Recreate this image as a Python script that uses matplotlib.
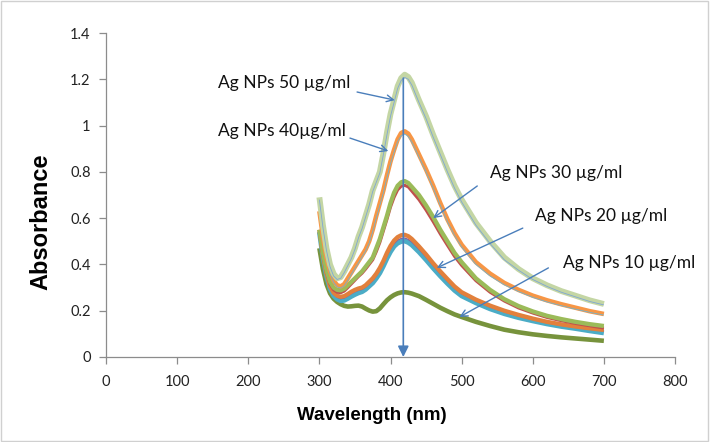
import numpy as np
import matplotlib
matplotlib.use("Agg")
import matplotlib.pyplot as plt
from matplotlib.patches import Rectangle

# ---------------- data ----------------
wavelength = [300, 305, 310, 315, 320, 325, 330, 335, 340, 345, 350, 355, 360, 365, 370,
              375, 380, 385, 390, 395, 400, 405, 410, 415, 420, 425, 430,
              440, 450, 460, 470, 480, 490, 500,
              520, 540, 560, 580, 600, 620, 640, 660, 680, 700]

abs_50 = [0.69, 0.57, 0.47, 0.40, 0.36, 0.34, 0.345, 0.37, 0.40, 0.43, 0.47, 0.52, 0.56, 0.61, 0.66,
          0.72, 0.76, 0.80, 0.88, 0.97, 1.05, 1.11, 1.17, 1.205, 1.22, 1.21, 1.185,
          1.11, 1.04, 0.96, 0.885, 0.81, 0.74, 0.68,
          0.58, 0.50, 0.43, 0.38, 0.34, 0.31, 0.285, 0.265, 0.245, 0.229]
abs_50b = [0.68, 0.56, 0.46, 0.39, 0.35, 0.335, 0.34, 0.365, 0.395, 0.425, 0.465, 0.515, 0.555, 0.605, 0.655,
           0.715, 0.755, 0.795, 0.875, 0.96, 1.04, 1.10, 1.16, 1.195, 1.208, 1.20, 1.175,
           1.10, 1.03, 0.95, 0.875, 0.80, 0.73, 0.67,
           0.57, 0.49, 0.42, 0.375, 0.335, 0.305, 0.28, 0.26, 0.24, 0.225]
abs_40 = [0.63, 0.52, 0.43, 0.37, 0.33, 0.31, 0.305, 0.315, 0.34, 0.365, 0.39, 0.415, 0.44, 0.465, 0.50,
          0.55, 0.61, 0.665, 0.72, 0.785, 0.845, 0.895, 0.94, 0.968, 0.975, 0.965, 0.94,
          0.875, 0.81, 0.74, 0.665, 0.595, 0.535, 0.485,
          0.41, 0.36, 0.32, 0.29, 0.265, 0.245, 0.228, 0.213, 0.198, 0.186]
abs_40b = [0.62, 0.51, 0.42, 0.36, 0.322, 0.303, 0.298, 0.308, 0.332, 0.357, 0.382, 0.407, 0.432, 0.457, 0.492,
           0.542, 0.60, 0.655, 0.71, 0.775, 0.835, 0.885, 0.93, 0.957, 0.963, 0.953, 0.928,
           0.865, 0.80, 0.73, 0.655, 0.585, 0.525, 0.475,
           0.40, 0.35, 0.312, 0.283, 0.258, 0.238, 0.222, 0.207, 0.193, 0.181]
abs_30 = [0.55, 0.45, 0.375, 0.325, 0.30, 0.29, 0.288, 0.295, 0.31, 0.325, 0.34, 0.355, 0.37, 0.39, 0.41,
          0.43, 0.47, 0.51, 0.56, 0.61, 0.665, 0.71, 0.74, 0.755, 0.76, 0.752, 0.735,
          0.70, 0.655, 0.605, 0.55, 0.50, 0.45, 0.41,
          0.34, 0.29, 0.25, 0.22, 0.197, 0.178, 0.164, 0.152, 0.142, 0.134]
abs_30b = [0.54, 0.44, 0.365, 0.315, 0.29, 0.28, 0.278, 0.285, 0.30, 0.316, 0.332, 0.348, 0.362, 0.38, 0.40,
           0.42, 0.455, 0.495, 0.545, 0.595, 0.648, 0.69, 0.722, 0.738, 0.742, 0.735, 0.717,
           0.68, 0.635, 0.585, 0.532, 0.483, 0.435, 0.396,
           0.33, 0.28, 0.242, 0.212, 0.19, 0.171, 0.157, 0.145, 0.135, 0.125]
abs_20 = [0.55, 0.44, 0.36, 0.305, 0.278, 0.265, 0.26, 0.263, 0.272, 0.282, 0.29, 0.296, 0.30, 0.31, 0.325,
          0.34, 0.36, 0.385, 0.415, 0.45, 0.48, 0.503, 0.518, 0.526, 0.528, 0.522, 0.51,
          0.478, 0.443, 0.405, 0.37, 0.337, 0.305, 0.28,
          0.248, 0.222, 0.20, 0.182, 0.166, 0.152, 0.141, 0.132, 0.124, 0.117]
abs_20b = [0.545, 0.435, 0.355, 0.30, 0.272, 0.258, 0.252, 0.255, 0.264, 0.274, 0.282, 0.288, 0.292, 0.302, 0.316,
           0.33, 0.35, 0.375, 0.405, 0.438, 0.467, 0.49, 0.505, 0.512, 0.514, 0.508, 0.497,
           0.466, 0.432, 0.395, 0.36, 0.328, 0.297, 0.273,
           0.242, 0.216, 0.195, 0.177, 0.162, 0.148, 0.137, 0.128, 0.12, 0.113]
abs_20c = [0.54, 0.43, 0.35, 0.295, 0.265, 0.25, 0.243, 0.245, 0.253, 0.262, 0.27, 0.277, 0.282, 0.292, 0.306,
           0.32, 0.34, 0.363, 0.393, 0.426, 0.455, 0.478, 0.492, 0.499, 0.501, 0.495, 0.484,
           0.454, 0.42, 0.384, 0.35, 0.318, 0.288, 0.264,
           0.234, 0.208, 0.187, 0.17, 0.156, 0.143, 0.132, 0.123, 0.113, 0.104]
abs_10 = [0.47, 0.38, 0.315, 0.275, 0.252, 0.238, 0.228, 0.221, 0.218, 0.219, 0.221, 0.222, 0.218, 0.209, 0.201,
          0.196, 0.198, 0.21, 0.228, 0.245, 0.258, 0.268, 0.275, 0.279, 0.28, 0.278, 0.274,
          0.263, 0.247, 0.23, 0.213, 0.198, 0.184, 0.173,
          0.152, 0.134, 0.118, 0.107, 0.098, 0.091, 0.085, 0.08, 0.075, 0.07]

x_ticks = [0, 100, 200, 300, 400, 500, 600, 700, 800]
y_ticks = [0, 0.2, 0.4, 0.6, 0.8, 1.0, 1.2, 1.4]
y_tick_labels = ["0", "0.2", "0.4", "0.6", "0.8", "1", "1.2", "1.4"]

labels = ["Ag NPs 50 µg/ml", "Ag NPs 40µg/ml", "Ag NPs 30 µg/ml",
          "Ag NPs 20 µg/ml", "Ag NPs 10 µg/ml"]
label_pos = [(157, 1.184), (157, 0.977), (540, 0.795), (603, 0.609), (643, 0.406)]
arrow_from = [(353, 1.145), (343, 0.946), (522, 0.739), (586, 0.557), (622, 0.385)]
arrow_to = [(406, 1.11), (397, 0.89), (460, 0.60), (465, 0.385), (497, 0.173)]

# ---------------- figure ----------------
fig = plt.figure(figsize=(7.1, 4.42), dpi=100)
ax = fig.add_axes([106 / 710, 85 / 442, (675 - 106) / 710, (409 - 85) / 442])

series = [
    (abs_10, "#77933c", 3.3),
    (abs_20c, "#4bacc6", 3.5),
    (abs_20b, "#8064a2", 1.0),
    (abs_20, "#e2803c", 3.1),
    (abs_30b, "#c0504d", 2.2),
    (abs_30, "#9bbb59", 3.1),
    (abs_40, "#f79646", 3.3),
    (abs_40b, "#6fb3cf", 0.6),
    (abs_50, "#c4d6a4", 4.2),
    (abs_50b, "#7fa6d4", 0.6),
]
for vals, col, lw in series:
    ax.plot(wavelength, vals, color=col, lw=lw, solid_capstyle="butt",
            solid_joinstyle="round")

ax.set_xlim(0, 800)
ax.set_ylim(0, 1.4)
ax.set_xticks(x_ticks)
ax.set_yticks(y_ticks)
ax.set_yticklabels(y_tick_labels)

for lab in ax.get_xticklabels() + ax.get_yticklabels():
    lab.set_fontfamily(["Lato", "DejaVu Sans"])
    lab.set_fontsize(10.5)
    lab.set_color("#222222")

for s in ["top", "right"]:
    ax.spines[s].set_visible(False)
for s in ["left", "bottom"]:
    ax.spines[s].set_color("#8c8c8c")
    ax.spines[s].set_linewidth(0.9)
ax.tick_params(axis="both", direction="out", length=5, width=0.9, color="#8c8c8c")
ax.tick_params(axis="x", pad=8)
ax.tick_params(axis="y", pad=6)

arrow_col = "#4a7ebb"
# vertical marker at peak wavelength
peak_idx = int(np.argmax(abs_50))
peak_w = wavelength[peak_idx] - 2
ax.annotate("", xy=(peak_w, 0), xytext=(peak_w, abs_50[peak_idx] - 0.015),
            arrowprops=dict(arrowstyle="-|>", color=arrow_col, lw=1.2,
                            mutation_scale=16, shrinkA=0, shrinkB=0),
            annotation_clip=False)

for txt, pos, a0, a1 in zip(labels, label_pos, arrow_from, arrow_to):
    ax.text(pos[0], pos[1], txt, ha="left", va="center",
            family=["Lato", "DejaVu Sans"], fontsize=12.5, color="#111111")
    ax.annotate("", xy=a1, xytext=a0,
                arrowprops=dict(arrowstyle="->", color=arrow_col, lw=1.0,
                                mutation_scale=12, shrinkA=0, shrinkB=0),
                annotation_clip=False)

fig.text(41 / 710, 1 - 222 / 442, "Absorbance", rotation=90, ha="center", va="center",
         family=["Liberation Sans", "DejaVu Sans"], fontweight="bold", fontsize=17)
fig.text(372 / 710, 1 - 416 / 442, "Wavelength (nm)", ha="center", va="center",
         family=["Liberation Sans", "DejaVu Sans"], fontweight="bold", fontsize=13.5)

fig.patches.append(Rectangle((0.002, 0.003), 0.995, 0.994, transform=fig.transFigure,
                             fill=False, edgecolor="#d0d0d0", lw=1.0))

fig.savefig("out.png", dpi=100)
